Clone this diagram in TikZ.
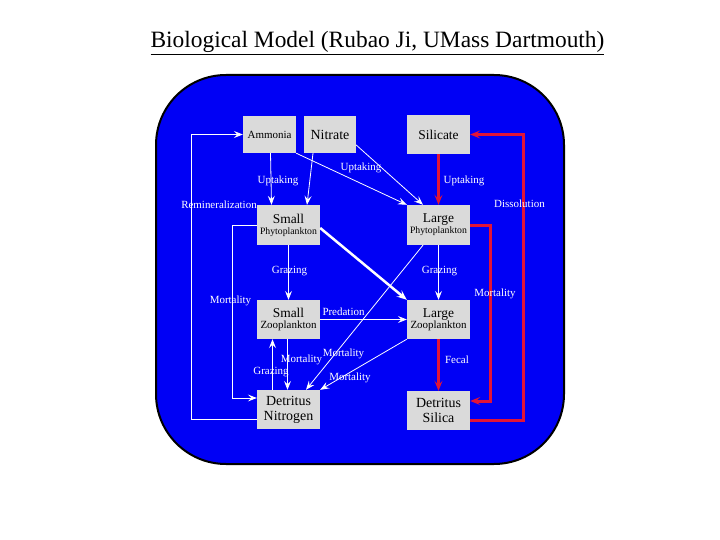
\documentclass[tikz,border=0pt]{standalone}
\usepackage{fontspec}
\setmainfont{Liberation Serif}
\usetikzlibrary{arrows.meta,calc}
\definecolor{bgblue}{RGB}{0,0,245}
\definecolor{boxgray}{RGB}{218,218,218}
\definecolor{redl}{RGB}{225,20,55}
\begin{document}
\begin{tikzpicture}[x=1bp,y=-1bp,
  box/.style={fill=boxgray, inner sep=0pt, align=center, minimum width=63bp, minimum height=39bp},
  wl/.style={white, line width=0.8bp, -{Stealth[length=9bp,width=7bp,inset=3.5bp]}},
  wthick/.style={white, line width=2.5bp, -{Stealth[length=10bp,width=8bp,inset=4bp]}},
  rl/.style={redl, line width=3bp, -{Stealth[length=10bp,width=8bp,inset=4bp]}},
  lab/.style={white, font=\fontsize{11}{12}\selectfont, inner sep=0pt}]
\useasboundingbox (0,0) rectangle (720,540);
\fill[white] (0,0) rectangle (720,540);
\draw[line width=2bp, fill=bgblue, rounded corners=70bp] (156,75) rectangle (564,464);

\node[font=\fontsize{23.5}{26}\selectfont] (title) at (377.5,43) {\underline{Biological Model (Rubao Ji, UMass Dartmouth)}};

% nodes
\node[box, minimum width=53bp, minimum height=37bp, font=\fontsize{11}{12}\selectfont] (amm) at (269.5,134.5) {Ammonia};
\node[box, minimum width=52bp, minimum height=37bp, font=\fontsize{14}{15}\selectfont] (nit) at (330,134.5) {Nitrate};
\node[box, font=\fontsize{13.5}{15}\selectfont] (sil) at (438.5,134.5) {Silicate};
\node[box, minimum height=40bp] (sp) at (288.5,225) {{\fontsize{13.5}{15}\selectfont Small}\\[-1bp]{\fontsize{9.8}{11}\selectfont Phytoplankton}};
\node[box, minimum height=40bp] (lp) at (438.5,225) {{\fontsize{13.5}{15}\selectfont Large}\\[-1bp]{\fontsize{9.8}{11}\selectfont Phytoplankton}};
\node[box] (sz) at (288.5,319.5) {{\fontsize{13.5}{15}\selectfont Small}\\[-1bp]{\fontsize{11}{12}\selectfont Zooplankton}};
\node[box] (lz) at (438.5,319.5) {{\fontsize{13.5}{15}\selectfont Large}\\[-1bp]{\fontsize{11}{12}\selectfont Zooplankton}};
\node[box, font=\fontsize{14}{15}\selectfont] (dn) at (288.5,409.5) {Detritus\\Nitrogen};
\node[box, font=\fontsize{14}{15}\selectfont] (ds) at (438.5,410.5) {Detritus\\Silica};

% white connectors
\draw[wl] ([xshift=1bp]amm.south) -- ([xshift=-17bp]sp.north);
\draw[wl] ([xshift=-17bp]nit.south) -- ([xshift=18.5bp]sp.north);
\draw[wl] (amm.south east) -- (lp.north west);
\draw[wl] ([yshift=-10.5bp]nit.east) -- ([xshift=-15.5bp]lp.north);
\draw[wthick] ([yshift=-3bp]sp.east) -- (lz.north west);
\draw[wl] (sp.south) -- (sz.north);
\draw[wl] (lp.south) -- (lz.north);
\draw[wl] (sp.west) -- ++(-24.3,0) |- ([yshift=11.5bp]dn.west);
\draw[wl] ([xshift=-15.5bp]lp.south) -- ([xshift=17.5bp]dn.north);
\draw[wl] (lz.south west) -- (dn.north east);
\draw[wl] ([xshift=-1bp]sz.south) -- ([xshift=-1bp]dn.north);
\draw[wl] ([xshift=-16bp]dn.north) -- ([xshift=-16bp]sz.south);
\draw[wl] (sz.east) -- (lz.west);
\draw[wl] ([yshift=-9.5bp]dn.west) -- ++(-65,0) |- (amm.west);

% red connectors
\draw[rl] (sil.south) -- (lp.north);
\draw[rl, line width=2.5bp] (lz.south) -- (ds.north);
\draw[rl] ([yshift=-1bp]lp.east) -- ++(20,0) |- ([yshift=9.5bp]ds.east);
\draw[rl] ([yshift=-9.5bp]ds.east) -- ++(53,0) |- (sil.east);

% labels
\node[lab] (l1) at (278,181) {Uptaking};
\node[lab] (l2) at (361,168) {Uptaking};
\node[lab] (l3) at (464,181) {Uptaking};
\node[lab] (l4) at (219,205) {Remineralization};
\node[lab] (l5) at (519.5,204) {Dissolution};
\node[lab] (l6) at (289.5,271) {Grazing};
\node[lab] (l7) at (439.5,271) {Grazing};
\node[lab] (l8) at (230.5,301) {Mortality};
\node[lab] (l9) at (495,294) {Mortality};
\node[lab] (l10) at (343.5,312) {Predation};
\node[lab] (l11) at (301.5,360) {Mortality};
\node[lab] (l12) at (343.5,354) {Mortality};
\node[lab] (l13) at (350,378) {Mortality};
\node[lab] (l14) at (271,372) {Grazing};
\node[lab] (l15) at (457,360) {Fecal};
\end{tikzpicture}
\end{document}
